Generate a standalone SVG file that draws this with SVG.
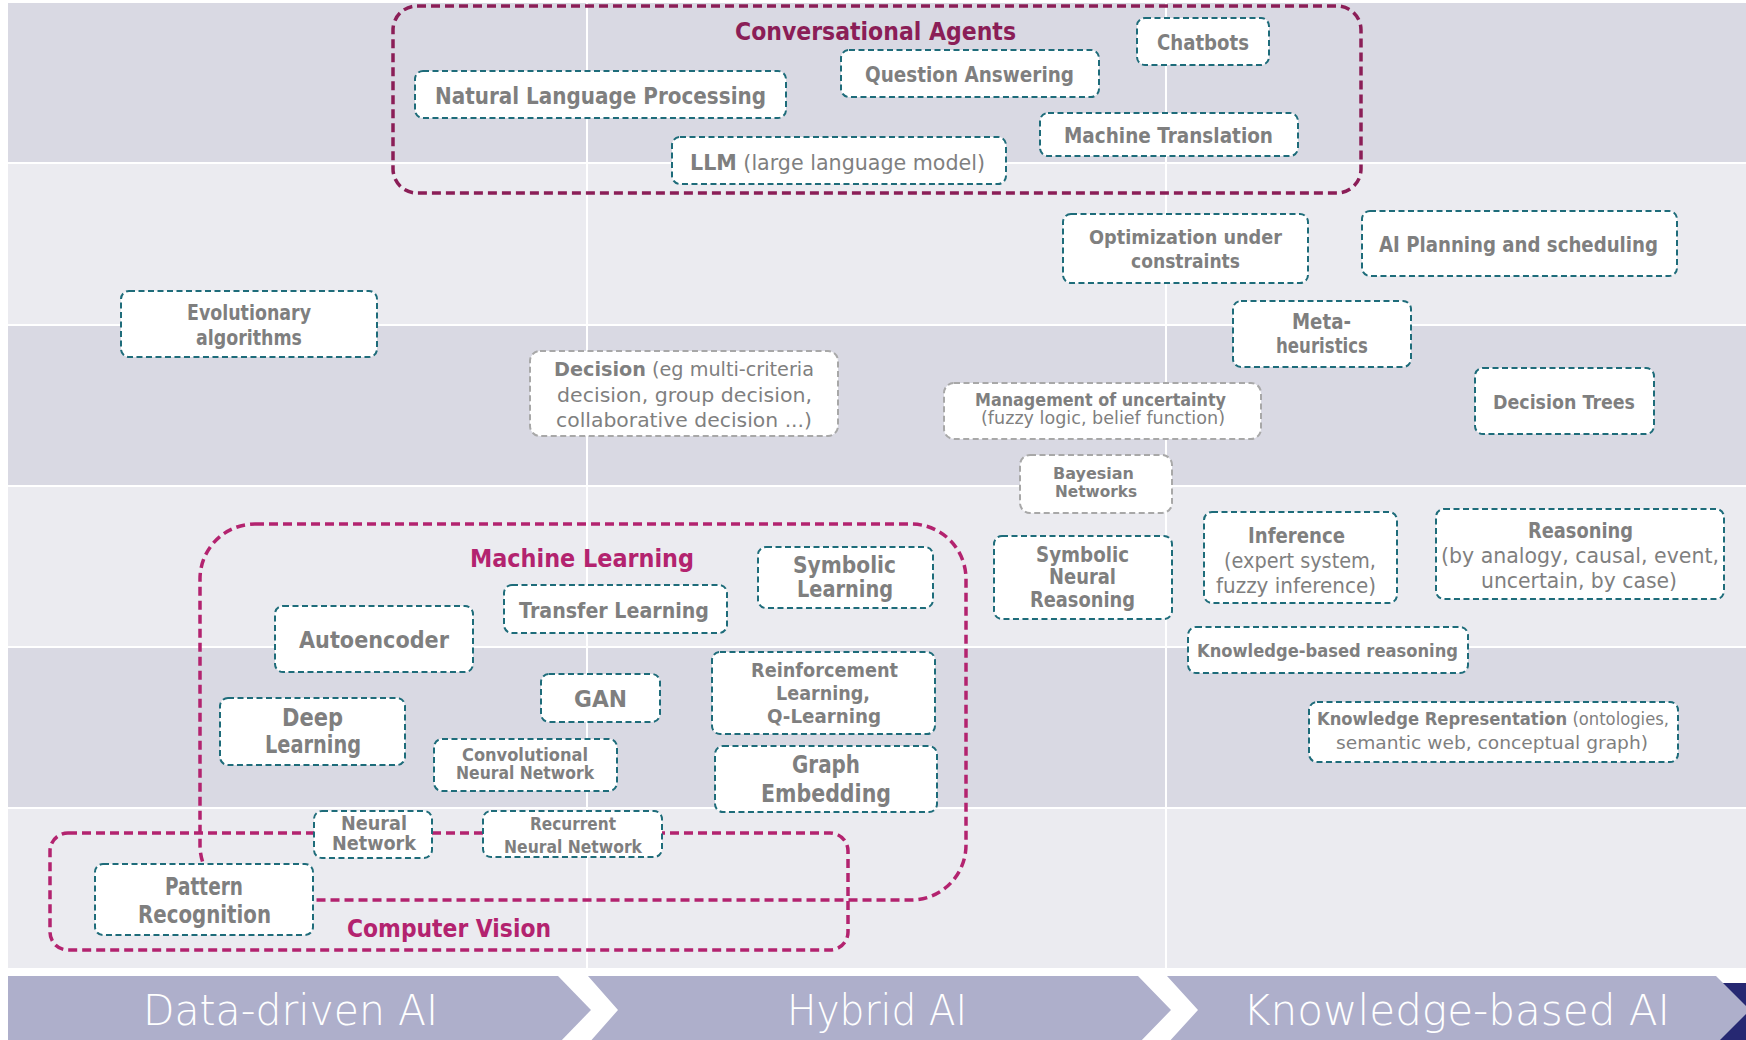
<svg xmlns="http://www.w3.org/2000/svg" width="1746" height="1040" viewBox="0 0 1746 1040">
<style>
.bd{fill:#D9D9E3}
.bl{fill:#EBEBF0}
.vl{stroke:#FFFFFF;stroke-width:2}
.node rect{fill:#FFFFFF;stroke:#1E6C7A;stroke-width:2;stroke-dasharray:6 3.5}
.node.gray rect{stroke:#A8A8A8}
.node text{font-family:"DejaVu Sans","Liberation Sans",sans-serif;font-weight:bold;fill:#7F7F7F}
.node text .lt{font-weight:normal}
.node text.lt{font-weight:normal}
.ctr rect{fill:none;stroke-width:3.5;stroke-dasharray:9 5}
.ctr text{font-family:"DejaVu Sans","Liberation Sans",sans-serif;font-weight:bold;font-size:25px}
.dark rect{stroke:#8B1E57}
.dark text{fill:#8B1E57}
.mag rect{stroke:#B3236F}
.mag text{fill:#B3236F}
.chev{fill:#AEAFCB}
.chevtxt{font-family:"DejaVu Sans","Liberation Sans",sans-serif;font-weight:300;font-size:42px;fill:#FFFFFF}
</style>
<rect x="0" y="0" width="1746" height="1040" fill="#FFFFFF"/>
<g id="background">
<rect class="bd" x="8" y="3" width="1738" height="159"/>
<rect class="bl" x="8" y="164" width="1738" height="160"/>
<rect class="bd" x="8" y="326" width="1738" height="159"/>
<rect class="bl" x="8" y="487" width="1738" height="159"/>
<rect class="bd" x="8" y="648" width="1738" height="159"/>
<rect class="bl" x="8" y="809" width="1738" height="159"/>
<line class="vl" x1="587" y1="3" x2="587" y2="968"/>
<line class="vl" x1="1166" y1="3" x2="1166" y2="968"/>
</g>
<g id="axis">
<rect x="1700" y="983" width="46" height="57" fill="#262872"/>
<path class="chev" d="M8,976 H558 L591,1010 L558,1044 H8 Z"/>
<path class="chev" d="M588,976 H1138 L1171,1010 L1138,1044 H588 L618,1010 Z"/>
<path class="chev" d="M1167,976 H1716 L1750,1010 L1716,1044 H1167 L1198,1010 Z"/>
<text class="chevtxt" x="143" y="1025" textLength="295" lengthAdjust="spacingAndGlyphs">Data-driven AI</text>
<text class="chevtxt" x="787" y="1025" textLength="180" lengthAdjust="spacingAndGlyphs">Hybrid AI</text>
<text class="chevtxt" x="1243" y="1025" textLength="427" lengthAdjust="spacingAndGlyphs">Knowledge-based AI</text>
</g>
<g id="connectors"></g>
<g id="conversational-agents" class="ctr dark">
<rect x="393" y="6" width="968" height="187" rx="24"/>
<text x="735" y="40" textLength="281" lengthAdjust="spacingAndGlyphs">Conversational Agents</text>
</g>
<g id="machine-learning" class="ctr mag">
<rect x="200" y="524" width="766" height="376" rx="55"/>
<text x="470" y="567" textLength="224" lengthAdjust="spacingAndGlyphs">Machine Learning</text>
</g>
<g id="computer-vision" class="ctr mag">
<rect x="50" y="833" width="798" height="117" rx="18"/>
<text x="347" y="937" textLength="204" lengthAdjust="spacingAndGlyphs">Computer Vision</text>
</g>

<g id="nlp" class="node"><rect x="415" y="71" width="371" height="47" rx="8"/>
<text x="435" y="104" font-size="23" textLength="331" lengthAdjust="spacingAndGlyphs">Natural Language Processing</text></g>
<g id="qa" class="node"><rect x="841" y="50" width="258" height="47" rx="8"/>
<text x="865" y="82" font-size="22" textLength="209" lengthAdjust="spacingAndGlyphs">Question Answering</text></g>
<g id="chatbots" class="node"><rect x="1137" y="18" width="132" height="47" rx="8"/>
<text x="1157" y="50" font-size="21" textLength="92" lengthAdjust="spacingAndGlyphs">Chatbots</text></g>
<g id="mt" class="node"><rect x="1040" y="113" width="258" height="43" rx="8"/>
<text x="1064" y="143" font-size="21" textLength="209" lengthAdjust="spacingAndGlyphs">Machine Translation</text></g>
<g id="llm" class="node"><rect x="672" y="137" width="334" height="47" rx="8"/>
<text x="690" y="170" font-size="22" textLength="295" lengthAdjust="spacingAndGlyphs">LLM<tspan class="lt"> (large language model)</tspan></text></g>
<g id="optimization" class="node"><rect x="1063" y="214" width="245" height="69" rx="8"/>
<text x="1089" y="244" font-size="20" textLength="193" lengthAdjust="spacingAndGlyphs">Optimization under</text>
<text x="1131" y="268" font-size="20" textLength="109" lengthAdjust="spacingAndGlyphs">constraints</text></g>
<g id="planning" class="node"><rect x="1362" y="211" width="315" height="65" rx="8"/>
<text x="1379" y="252" font-size="21" textLength="279" lengthAdjust="spacingAndGlyphs">AI Planning and scheduling</text></g>
<g id="metaheuristics" class="node"><rect x="1233" y="301" width="178" height="66" rx="8"/>
<text x="1292" y="329" font-size="21" textLength="59" lengthAdjust="spacingAndGlyphs">Meta-</text>
<text x="1276" y="353" font-size="21" textLength="92" lengthAdjust="spacingAndGlyphs">heuristics</text></g>
<g id="evolutionary" class="node"><rect x="121" y="291" width="256" height="66" rx="8"/>
<text x="187" y="320" font-size="21" textLength="124" lengthAdjust="spacingAndGlyphs">Evolutionary</text>
<text x="196" y="345" font-size="21" textLength="106" lengthAdjust="spacingAndGlyphs">algorithms</text></g>
<g id="decision" class="node gray"><rect x="530" y="351" width="308" height="85" rx="10"/>
<text x="554" y="376" font-size="20" textLength="260" lengthAdjust="spacingAndGlyphs">Decision<tspan class="lt"> (eg multi-criteria</tspan></text>
<text class="lt" x="557" y="402" font-size="20" textLength="255" lengthAdjust="spacingAndGlyphs">decision, group decision,</text>
<text class="lt" x="556" y="427" font-size="20" textLength="256" lengthAdjust="spacingAndGlyphs">collaborative decision ...)</text></g>
<g id="uncertainty" class="node gray"><rect x="944" y="383" width="317" height="56" rx="10"/>
<text x="975" y="406" font-size="17" textLength="251" lengthAdjust="spacingAndGlyphs">Management of uncertainty</text>
<text class="lt" x="981" y="424" font-size="17" textLength="244" lengthAdjust="spacingAndGlyphs">(fuzzy logic, belief function)</text></g>
<g id="bayesian" class="node gray"><rect x="1020" y="455" width="152" height="58" rx="10"/>
<text x="1053" y="479" font-size="16.5" textLength="81" lengthAdjust="spacingAndGlyphs">Bayesian</text>
<text x="1055" y="497" font-size="16.5" textLength="82" lengthAdjust="spacingAndGlyphs">Networks</text></g>
<g id="decision-trees" class="node"><rect x="1475" y="368" width="179" height="66" rx="8"/>
<text x="1493" y="409" font-size="20" textLength="142" lengthAdjust="spacingAndGlyphs">Decision Trees</text></g>
<g id="snr" class="node"><rect x="994" y="536" width="178" height="83" rx="8"/>
<text x="1036" y="562" font-size="21" textLength="93" lengthAdjust="spacingAndGlyphs">Symbolic</text>
<text x="1049" y="584" font-size="21" textLength="67" lengthAdjust="spacingAndGlyphs">Neural</text>
<text x="1030" y="607" font-size="21" textLength="105" lengthAdjust="spacingAndGlyphs">Reasoning</text></g>
<g id="inference" class="node"><rect x="1204" y="512" width="193" height="91" rx="8"/>
<text x="1248" y="543" font-size="21" textLength="97" lengthAdjust="spacingAndGlyphs">Inference</text>
<text class="lt" x="1224" y="568" font-size="21" textLength="152" lengthAdjust="spacingAndGlyphs">(expert system,</text>
<text class="lt" x="1216" y="593" font-size="21" textLength="160" lengthAdjust="spacingAndGlyphs">fuzzy inference)</text></g>
<g id="reasoning" class="node"><rect x="1436" y="509" width="288" height="90" rx="8"/>
<text x="1528" y="538" font-size="21" textLength="105" lengthAdjust="spacingAndGlyphs">Reasoning</text>
<text class="lt" x="1441" y="563" font-size="21" textLength="278" lengthAdjust="spacingAndGlyphs">(by analogy, causal, event,</text>
<text class="lt" x="1481" y="588" font-size="21" textLength="196" lengthAdjust="spacingAndGlyphs">uncertain, by case)</text></g>
<g id="kb-reasoning" class="node"><rect x="1188" y="627" width="280" height="46" rx="8"/>
<text x="1197" y="657" font-size="18" textLength="261" lengthAdjust="spacingAndGlyphs">Knowledge-based reasoning</text></g>
<g id="kr" class="node"><rect x="1309" y="702" width="369" height="60" rx="8"/>
<text x="1317" y="725" font-size="17" textLength="352" lengthAdjust="spacingAndGlyphs">Knowledge Representation<tspan class="lt"> (ontologies,</tspan></text>
<text class="lt" x="1336" y="749" font-size="17" textLength="312" lengthAdjust="spacingAndGlyphs">semantic web, conceptual graph)</text></g>
<g id="transfer" class="node"><rect x="504" y="585" width="223" height="48" rx="8"/>
<text x="519" y="618" font-size="21" textLength="190" lengthAdjust="spacingAndGlyphs">Transfer Learning</text></g>
<g id="symbolic-learning" class="node"><rect x="758" y="547" width="175" height="61" rx="8"/>
<text x="793" y="573" font-size="23" textLength="103" lengthAdjust="spacingAndGlyphs">Symbolic</text>
<text x="797" y="597" font-size="23" textLength="96" lengthAdjust="spacingAndGlyphs">Learning</text></g>
<g id="autoencoder" class="node"><rect x="275" y="606" width="198" height="66" rx="8"/>
<text x="299" y="648" font-size="23" textLength="150" lengthAdjust="spacingAndGlyphs">Autoencoder</text></g>
<g id="gan" class="node"><rect x="541" y="674" width="119" height="48" rx="8"/>
<text x="574" y="707" font-size="23" textLength="53" lengthAdjust="spacingAndGlyphs">GAN</text></g>
<g id="rl" class="node"><rect x="712" y="652" width="223" height="82" rx="8"/>
<text x="751" y="677" font-size="20" textLength="147" lengthAdjust="spacingAndGlyphs">Reinforcement</text>
<text x="776" y="700" font-size="20" textLength="94" lengthAdjust="spacingAndGlyphs">Learning,</text>
<text x="767" y="723" font-size="20" textLength="114" lengthAdjust="spacingAndGlyphs">Q-Learning</text></g>
<g id="deep-learning" class="node"><rect x="220" y="698" width="185" height="67" rx="8"/>
<text x="282" y="726" font-size="24" textLength="61" lengthAdjust="spacingAndGlyphs">Deep</text>
<text x="265" y="753" font-size="24" textLength="96" lengthAdjust="spacingAndGlyphs">Learning</text></g>
<g id="cnn" class="node"><rect x="434" y="739" width="183" height="52" rx="8"/>
<text x="462" y="761" font-size="17.5" textLength="126" lengthAdjust="spacingAndGlyphs">Convolutional</text>
<text x="456" y="779" font-size="17.5" textLength="138" lengthAdjust="spacingAndGlyphs">Neural Network</text></g>
<g id="graph-embedding" class="node"><rect x="715" y="746" width="222" height="66" rx="8"/>
<text x="792" y="773" font-size="24" textLength="68" lengthAdjust="spacingAndGlyphs">Graph</text>
<text x="761" y="802" font-size="24" textLength="130" lengthAdjust="spacingAndGlyphs">Embedding</text></g>
<g id="neural-network" class="node"><rect x="314" y="811" width="118" height="47" rx="8"/>
<text x="341" y="830" font-size="19" textLength="66" lengthAdjust="spacingAndGlyphs">Neural</text>
<text x="332" y="850" font-size="19" textLength="84" lengthAdjust="spacingAndGlyphs">Network</text></g>
<g id="rnn" class="node"><rect x="483" y="811" width="179" height="46" rx="8"/>
<text x="530" y="830" font-size="18" textLength="86" lengthAdjust="spacingAndGlyphs">Recurrent</text>
<text x="504" y="853" font-size="18" textLength="138" lengthAdjust="spacingAndGlyphs">Neural Network</text></g>
<g id="pattern-recognition" class="node"><rect x="95" y="864" width="218" height="71" rx="8"/>
<text x="165" y="895" font-size="24" textLength="78" lengthAdjust="spacingAndGlyphs">Pattern</text>
<text x="138" y="923" font-size="24" textLength="133" lengthAdjust="spacingAndGlyphs">Recognition</text></g>
</svg>
